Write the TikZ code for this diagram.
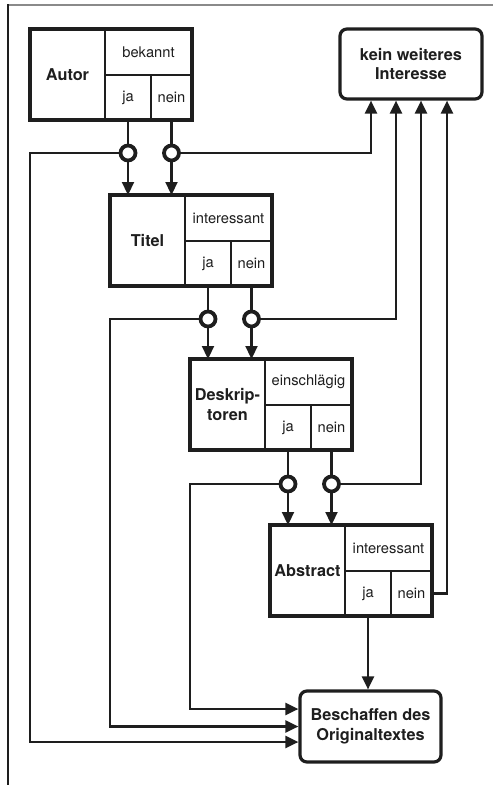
\documentclass[tikz,border=0pt]{standalone}
\usepackage{fontspec}
\setmainfont{TeX Gyre Heros}
\usetikzlibrary{arrows.meta,fit,positioning}
\definecolor{ink}{HTML}{1E1E1E}
\definecolor{rulegray}{HTML}{8A8A8A}
\tikzset{
  cell/.style={draw=ink, line width=1.2pt, inner sep=0pt, outer sep=0pt,
    anchor=north west, align=center, text=ink,
    font=\fontsize{14.7}{17}\selectfont},
  headcell/.style={cell, minimum width=75pt, minimum height=91pt,
    font=\fontsize{16.3}{19.5}\selectfont\bfseries},
  askcell/.style={cell, minimum width=87pt, minimum height=46pt},
  jacell/.style={cell, minimum width=46pt, minimum height=45pt},
  neincell/.style={cell, minimum width=41pt, minimum height=45pt},
  boxframe/.style={draw=ink, line width=3.2pt, inner sep=0pt, outer sep=0pt},
  endbox/.style={draw=ink, line width=3.2pt, rounded corners=7pt, align=center,
    inner sep=0pt, text=ink, font=\fontsize{16.3}{19.5}\selectfont\bfseries},
  switch/.style={circle, draw=ink, line width=3.8pt, fill=white,
    minimum size=15pt, inner sep=0pt},
  flow/.style={draw=ink, line width=2.2pt},
  flowarrow/.style={flow, -{Triangle[length=13pt,width=12pt]}}
}

\begin{document}
\begin{tikzpicture}[x=1pt,y=-1pt]
  \useasboundingbox (0,0) rectangle (493,785);
  % page rules
  \draw[rulegray, line width=2pt] (7,5) -- (493,5);
  \draw[ink, line width=1.5pt] (8,4) -- (8,785);

  % Autor
  \node[headcell] (autor-t) at (30,29) {Autor};
  \node[askcell] (autor-q) at (autor-t.north east) {bekannt};
  \node[jacell] (autor-ja) at (autor-q.south west) {ja};
  \node[neincell] (autor-nein) at (autor-ja.north east) {nein};
  \node[boxframe, fit=(autor-t)(autor-nein)] (autor) {};

  % Titel
  \node[headcell] (titel-t) at (110,195) {Titel};
  \node[askcell] (titel-q) at (titel-t.north east) {interessant};
  \node[jacell] (titel-ja) at (titel-q.south west) {ja};
  \node[neincell] (titel-nein) at (titel-ja.north east) {nein};
  \node[boxframe, fit=(titel-t)(titel-nein)] (titel) {};

  % Deskriptoren
  \node[headcell] (desk-t) at (190,359) {Deskrip-\\toren};
  \node[askcell] (desk-q) at (desk-t.north east) {einschlägig};
  \node[jacell] (desk-ja) at (desk-q.south west) {ja};
  \node[neincell] (desk-nein) at (desk-ja.north east) {nein};
  \node[boxframe, fit=(desk-t)(desk-nein)] (desk) {};

  % Abstract
  \node[headcell] (abstract-t) at (270,525) {Abstract};
  \node[askcell] (abstract-q) at (abstract-t.north east) {interessant};
  \node[jacell] (abstract-ja) at (abstract-q.south west) {ja};
  \node[neincell] (abstract-nein) at (abstract-ja.north east) {nein};
  \node[boxframe, fit=(abstract-t)(abstract-nein)] (abstract) {};

  % outcomes
  \node[endbox, minimum width=142pt, minimum height=70pt] (kein)
    at (411,64) {kein weiteres\\Interesse};
  \node[endbox, minimum width=141pt, minimum height=71pt] (beschaffen)
    at (370.5,726.5) {Beschaffen des\\Originaltextes};

  % switches
  \node[switch] (aj) at (autor-ja.south |- 0,153) {};
  \node[switch] (an) at (autor-nein.south |- 0,153) {};
  \node[switch] (tj) at (titel-ja.south |- 0,319) {};
  \node[switch] (tn) at (titel-nein.south |- 0,319) {};
  \node[switch] (dj) at (desk-ja.south |- 0,484) {};
  \node[switch] (dn) at (desk-nein.south |- 0,484) {};

  % Autor -> Titel
  \draw[flow] (autor-ja.south) -- (aj);
  \draw[flow] (autor-nein.south) -- (an);
  \draw[flowarrow] (aj) -- (aj |- titel.north);
  \draw[flowarrow] (an) -- (an |- titel.north);
  \draw[flowarrow] (aj) -- (aj -| autor.west) |- ([yshift=-15.5pt]beschaffen.west);
  \draw[flowarrow] (an) -| ([xshift=-40pt]kein.south);

  % Titel -> Deskriptoren
  \draw[flow] (titel-ja.south) -- (tj);
  \draw[flow] (titel-nein.south) -- (tn);
  \draw[flowarrow] (tj) -- (tj |- desk.north);
  \draw[flowarrow] (tn) -- (tn |- desk.north);
  \draw[flowarrow] (tj) -- (tj -| titel.west) |- (beschaffen.west);
  \draw[flowarrow] (tn) -| ([xshift=-15pt]kein.south);

  % Deskriptoren -> Abstract
  \draw[flow] (desk-ja.south) -- (dj);
  \draw[flow] (desk-nein.south) -- (dn);
  \draw[flowarrow] (dj) -- (dj |- abstract.north);
  \draw[flowarrow] (dn) -- (dn |- abstract.north);
  \draw[flowarrow] (dj) -- (dj -| desk.west) |- ([yshift=17.5pt]beschaffen.west);
  \draw[flowarrow] (dn) -| ([xshift=10pt]kein.south);

  % Abstract -> outcomes
  \draw[flowarrow] (abstract-ja.south) -- (abstract-ja.south |- beschaffen.north);
  \draw[flowarrow] (abstract-nein.east) -| ([xshift=36pt]kein.south);
\end{tikzpicture}
\end{document}
